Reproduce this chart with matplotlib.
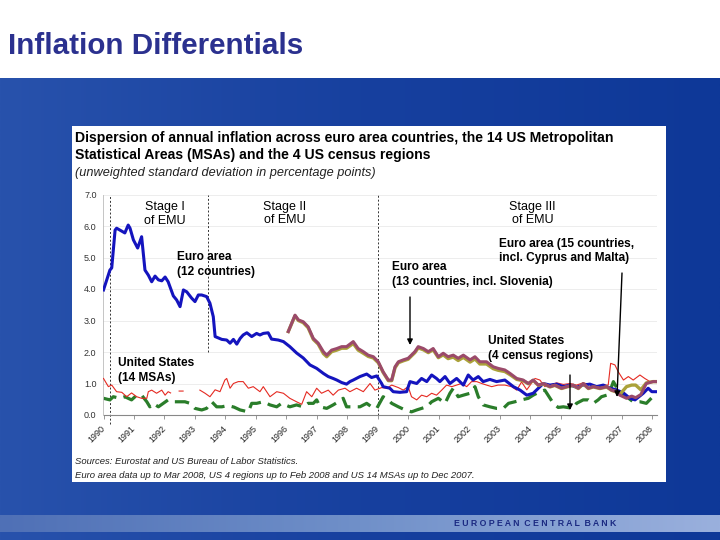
import matplotlib
matplotlib.use('Agg')
import matplotlib.pyplot as plt
import numpy as np
from matplotlib.patches import Rectangle, FancyArrowPatch
from matplotlib.colors import LinearSegmentedColormap

plt.rcParams['font.family'] = ['Liberation Sans', 'DejaVu Sans']

# ---------------- data ----------------
years = list(range(1990, 2009))
ytick_vals = [0, 1, 2, 3, 4, 5, 6, 7]
ytick_labels = ['0.0', '1.0', '2.0', '3.0', '4.0', '5.0', '6.0', '7.0']

# Euro area (12 countries)
ea12_t = [1990.00, 1990.21, 1990.27, 1990.38, 1990.43, 1990.70, 1990.81, 1990.87, 1990.98,
          1991.12, 1991.25, 1991.36, 1991.47, 1991.58, 1991.69, 1991.80, 1991.91,
          1992.02, 1992.12, 1992.29, 1992.40, 1992.51, 1992.62, 1992.73, 1992.89,
          1993.00, 1993.11, 1993.22, 1993.38, 1993.49, 1993.60, 1993.66, 1993.88,
          1994.04, 1994.15, 1994.26, 1994.37, 1994.48, 1994.58, 1994.70, 1994.86,
          1995.02, 1995.13, 1995.24, 1995.40, 1995.51, 1995.73, 1995.90,
          1996.11, 1996.33, 1996.55, 1996.77, 1996.99,
          1997.21, 1997.37, 1997.53, 1997.65, 1997.81, 1997.97,
          1998.08, 1998.19, 1998.41, 1998.63, 1998.79, 1998.96,
          1999.12, 1999.17, 1999.39, 1999.50, 1999.72, 1999.94,
          2000.05, 2000.27, 2000.43, 2000.60, 2000.76, 2000.92,
          2001.03, 2001.20, 2001.36, 2001.58, 2001.80, 2001.96,
          2002.12, 2002.29, 2002.45, 2002.67, 2002.89,
          2003.16, 2003.44, 2003.66, 2003.88,
          2004.09, 2004.26, 2004.42, 2004.64, 2004.86,
          2005.08, 2005.30, 2005.51, 2005.73, 2005.95,
          2006.17, 2006.39, 2006.61, 2006.81,
          2007.05, 2007.26, 2007.43, 2007.70, 2007.86, 2007.98, 2008.19]
ea12_v = [3.97, 4.60, 4.67, 5.87, 5.93, 5.78, 6.03, 5.93, 5.56,
          5.30, 5.66, 4.60, 4.44, 4.23, 4.41, 4.29, 4.26,
          4.38, 4.23, 3.78, 3.65, 3.44, 3.97, 3.91, 3.71,
          3.60, 3.81, 3.81, 3.76, 3.55, 3.12, 2.49, 2.40,
          2.38, 2.28, 2.40, 2.25, 2.43, 2.54, 2.61, 2.49,
          2.59, 2.54, 2.59, 2.61, 2.41, 2.38, 2.33,
          2.17, 1.97, 1.81, 1.59, 1.48,
          1.32, 1.22, 1.16, 1.11, 1.03, 0.98,
          1.06, 1.11, 1.22, 1.30, 1.19, 1.24,
          1.00, 0.90, 0.85, 0.74, 0.72, 0.74,
          1.06, 1.00, 1.16, 1.06, 1.27, 1.16,
          1.06, 1.22, 1.00, 1.16, 0.95, 1.27,
          1.11, 1.22, 1.06, 1.13, 1.06,
          1.11, 0.90, 0.79, 0.63,
          0.69, 0.85, 1.00, 0.95, 0.98,
          0.90, 0.95, 0.88, 0.95, 0.98,
          0.90, 0.95, 0.85, 0.80,
          0.70, 0.53, 0.48, 0.69, 0.85, 0.74, 0.74]

# Euro area (13 countries, incl. Slovenia) and (15 countries, incl. Cyprus and Malta)
ea_t = [1996.06, 1996.28, 1996.39, 1996.55, 1996.71, 1996.88,
        1997.04, 1997.21, 1997.32, 1997.48, 1997.65, 1997.81, 1997.97,
        1998.19, 1998.35, 1998.52, 1998.68, 1998.85,
        1999.01, 1999.17, 1999.34, 1999.45, 1999.56, 1999.67, 1999.83, 1999.99,
        2000.21, 2000.32, 2000.49, 2000.65, 2000.81, 2000.98,
        2001.14, 2001.30, 2001.47, 2001.63, 2001.80,
        2002.02, 2002.18, 2002.34, 2002.56, 2002.78, 2002.94,
        2003.16, 2003.33, 2003.55, 2003.76, 2003.93,
        2004.09, 2004.26, 2004.42, 2004.64, 2004.80,
        2005.02, 2005.19, 2005.40, 2005.57, 2005.73, 2005.90,
        2006.06, 2006.28, 2006.50, 2006.66, 2006.83, 2006.93,
        2007.15, 2007.32, 2007.45, 2007.62, 2007.80,
        2008.02, 2008.19]
ea15_v = [2.65, 3.17, 3.02, 2.96, 2.80, 2.43,
          2.28, 2.01, 1.90, 2.06, 2.11, 2.17, 2.17,
          2.33, 2.11, 2.01, 1.90, 1.85,
          1.69, 1.37, 1.11, 1.11, 1.53, 1.69, 1.75, 1.80,
          2.01, 2.17, 2.11, 2.01, 2.11, 1.85,
          1.96, 1.85, 1.90, 1.80, 1.90,
          1.75, 1.85, 1.69, 1.69, 1.53, 1.48,
          1.43, 1.32, 1.16, 1.11, 1.00,
          1.11, 0.95, 1.00, 0.90, 0.95,
          0.85, 0.90, 0.95, 0.85, 1.00, 0.85,
          0.90, 0.85, 0.90, 0.79, 0.74, 0.63,
          0.53, 0.60, 0.55, 0.65, 1.00,
          1.06, 1.06]
ea13_v = [2.65, 3.15, 3.00, 2.93, 2.77, 2.40,
          2.25, 1.95, 1.85, 2.01, 2.06, 2.12, 2.12,
          2.27, 2.06, 1.96, 1.86, 1.81,
          1.66, 1.35, 1.09, 1.09, 1.50, 1.66, 1.72, 1.77,
          1.98, 2.13, 2.07, 1.98, 2.07, 1.82,
          1.91, 1.79, 1.84, 1.73, 1.83,
          1.68, 1.78, 1.62, 1.62, 1.47, 1.42,
          1.38, 1.28, 1.13, 1.09, 0.99,
          1.10, 0.94, 0.99, 0.89, 0.94,
          0.84, 0.89, 0.94, 0.84, 0.99, 0.84,
          0.89, 0.84, 0.89, 0.78, 0.73, 0.65,
          0.90, 0.95, 0.95, 0.80, 1.02,
          1.06, 1.06]

# United States (4 census regions)
us4_t = [1990.00, 1990.16, 1990.27, 1990.43, 1990.60, 1990.76, 1990.92,
         1991.09, 1991.25, 1991.42, 1991.47, 1991.58, 1991.74, 1991.91,
         1992.02, 1992.12, 1992.20, 1992.30, 1992.48, 1992.61, 1992.75,
         1993.16, 1993.33, 1993.49, 1993.66, 1993.82, 1993.98,
         1994.04, 1994.15, 1994.26, 1994.42, 1994.58, 1994.75, 1994.91,
         1995.13, 1995.24, 1995.46, 1995.68, 1995.90,
         1996.11, 1996.33, 1996.50, 1996.66, 1996.83, 1996.99,
         1997.15, 1997.37, 1997.53, 1997.70, 1997.92,
         1998.08, 1998.30, 1998.52, 1998.74, 1998.90,
         1999.12, 1999.29, 1999.45, 1999.67, 1999.83, 1999.99,
         2000.10, 2000.27, 2000.43, 2000.60, 2000.76, 2000.92,
         2001.09, 2001.25, 2001.42, 2001.58, 2001.74, 2001.91,
         2002.07, 2002.24, 2002.40, 2002.56, 2002.73, 2002.94,
         2003.16, 2003.38, 2003.55, 2003.71, 2003.88,
         2004.15, 2004.31, 2004.47, 2004.64, 2004.86,
         2005.08, 2005.30, 2005.51, 2005.73, 2005.95,
         2006.17, 2006.39, 2006.55, 2006.63, 2006.77, 2006.88,
         2007.05, 2007.21, 2007.37, 2007.59, 2007.75, 2007.92,
         2008.08]
us4_v = [1.16, 0.90, 0.95, 0.74, 0.72, 0.58, 0.70,
         0.58, 0.53, 0.53, 0.74, 0.79, 0.69, 0.79,
         0.63, 0.74, 0.70, np.nan, 0.76, 0.76, np.nan,
         0.79, 0.69, 0.58, 0.80, 0.74, 1.11,
         1.16, 0.85, 1.00, 1.06, 1.06, 0.85, 0.90,
         0.74, 0.90, 0.58, 0.74, 0.69,
         0.53, 0.42, 0.34, 0.74, 0.58, 0.85,
         0.69, 0.79, 0.63, 0.79, 0.85,
         0.74, 0.85, 0.74, 1.00, 0.79,
         0.87, 0.85, 0.95, 0.87, 0.79, 0.90,
         0.58, 0.48, 0.63, 0.58, 0.69, 0.63,
         0.79, 0.95, 0.90, 0.95, 1.00, 0.90,
         1.06, 1.06, 1.00, 0.95, 0.90, 0.95,
         0.95, 0.90, 0.79, 1.05, 0.80,
         1.16, 1.11, 0.90, 0.95, 1.02,
         0.97, 1.00, 0.95, 1.02, 0.97,
         0.92, 0.95, 0.95, 1.64, 1.59, 1.37,
         1.11, 1.22, 1.11, 1.27, 1.16, 1.06,
         1.06]

# United States (14 MSAs)
us14_t = [1990.00, 1990.21, 1990.32, 1990.54, 1990.70, 1990.92,
          1991.09, 1991.25, 1991.42, 1991.52, 1991.63, 1991.80, 1991.96,
          1992.12, 1992.29, 1992.45, 1992.67, 1992.84,
          1993.00, 1993.22, 1993.38, 1993.55, 1993.71, 1993.88,
          1994.08, 1994.28, 1994.48, 1994.75, 1994.86,
          1995.02, 1995.24, 1995.46, 1995.68, 1995.84,
          1996.11, 1996.33, 1996.55, 1996.71, 1996.88, 1996.99,
          1997.10, 1997.32, 1997.53, 1997.70, 1997.86, 1997.97,
          1998.19, 1998.41, 1998.63, 1998.79, 1998.96,
          1999.17, 1999.34, 1999.45, 1999.67, 1999.89,
          2000.10, 2000.27, 2000.43, 2000.60, 2000.76, 2000.98,
          2001.20, 2001.36, 2001.47, 2001.63, 2001.80,
          2002.02, 2002.18, 2002.29, 2002.45, 2002.67, 2002.89,
          2003.11, 2003.28, 2003.49, 2003.71, 2003.93,
          2004.09, 2004.31, 2004.47, 2004.75, 2004.91,
          2005.08, 2005.40, 2005.51, 2005.73, 2005.90,
          2006.06, 2006.22, 2006.33, 2006.50, 2006.66, 2006.72, 2006.93,
          2007.15, 2007.37, 2007.59, 2007.80, 2007.98]
us14_v = [0.53, 0.48, 0.58, 0.53, 0.58, 0.48,
          0.63, 0.63, 0.42, 0.26, 0.37, 0.26, 0.37,
          0.48, 0.42, 0.42, 0.42, 0.37,
          0.21, 0.16, 0.21, 0.42, 0.26, 0.26,
          0.30, 0.25, 0.16, 0.10, 0.37,
          0.37, 0.42, 0.32, 0.26, 0.37,
          0.26, 0.32, 0.26, 0.37, 0.37, 0.48,
          0.26, 0.21, 0.32, 0.42, 0.53, 0.26,
          0.26, 0.26, 0.37, 0.26, 0.21,
          0.58, 0.48, 0.37, 0.26, 0.16,
          0.10, 0.16, 0.21, 0.26, 0.42, 0.53,
          0.37, 0.69, 0.85, 0.58, 0.63,
          0.69, 0.90, 0.58, 0.32, 0.26, 0.21,
          0.21, 0.37, 0.42, 0.48, 0.53,
          0.63, 0.74, 0.79, 0.37, 0.24,
          0.26, 0.21, 0.37, 0.48, 0.48,
          0.37, 0.48, 0.58, 0.63, 0.90, 1.06, 0.69,
          0.58, 0.42, 0.42, 0.37, 0.55]

stage_x = [1990.21, 1993.43, 1999.00]
stage_bottom = [-0.3, 2.0, 0.0]

# ---------------- figure ----------------
W, H = 720, 540


def P(x, y):
    return (x / W, 1 - y / H)


fig = plt.figure(figsize=(7.2, 5.4), dpi=100)
fig.patch.set_facecolor('white')

bg = fig.add_axes([0, 0, 1, 1], zorder=-10)
bg.set_xlim(0, W)
bg.set_ylim(H, 0)
bg.axis('off')
grad = np.tile(np.linspace(0, 1, 256)[None, :], (8, 1))
cmap_bg = LinearSegmentedColormap.from_list('bgc', ['#2852AC', '#17409F', '#0E3898'])
bg.imshow(grad, extent=[0, W, 540, 78], cmap=cmap_bg, aspect='auto', interpolation='bilinear')
cmap_st = LinearSegmentedColormap.from_list('stc', ['#4F70B6', '#7090C9', '#9AB0DD'])
bg.imshow(grad, extent=[0, W, 532, 515], cmap=cmap_st, aspect='auto', interpolation='bilinear')
bg.add_patch(Rectangle((72, 126), 594, 356, facecolor='white', edgecolor='none'))

fig.text(*P(8, 46), 'Inflation Differentials', fontsize=21.3, fontweight='bold',
         color='#2B318F', ha='left', va='center')
fig.text(*P(535, 523), '  '.join(' '.join(w) for w in ['EUROPEAN', 'CENTRAL', 'BANK']),
         fontsize=6.3, fontweight='bold', color='#1B2A82', ha='center', va='center')

# chart title
fig.text(*P(75, 138), 'Dispersion of annual inflation across euro area countries, the 14 US Metropolitan',
         fontsize=10.1, fontweight='bold', ha='left', va='center')
fig.text(*P(75, 155), 'Statistical Areas (MSAs) and the 4 US census regions',
         fontsize=10.1, fontweight='bold', ha='left', va='center')
fig.text(*P(75, 173), '(unweighted standard deviation in percentage points)',
         fontsize=9.2, style='italic', ha='left', va='center', color='#222222')
fig.text(*P(75, 461), 'Sources: Eurostat and US Bureau of Labor Statistics.',
         fontsize=6.8, style='italic', ha='left', va='center', color='#222222')
fig.text(*P(75, 476), 'Euro area data up to Mar 2008, US 4 regions up to Feb 2008 and US 14 MSAs up to Dec 2007.',
         fontsize=6.8, style='italic', ha='left', va='center', color='#222222')

ax = fig.add_axes([103.5 / W, 1 - 415 / H, (657 - 103.5) / W, (415 - 194.5) / H])
ax.set_facecolor('none')
ax.set_xlim(1990.0, 2008.15)
ax.set_ylim(0, 7)
for s in ['top', 'right']:
    ax.spines[s].set_visible(False)
ax.spines['left'].set_color('#BBBBBB')
ax.spines['left'].set_linewidth(0.6)
ax.spines['bottom'].set_color('#888888')
ax.spines['bottom'].set_linewidth(0.8)
ax.set_yticks(ytick_vals)
ax.set_yticklabels(ytick_labels, fontsize=6.5, color='#333333')
ax.tick_params(axis='y', length=0, pad=5)
ax.set_xticks(years)
ax.set_xticklabels([str(y) for y in years], rotation=45, ha='right', va='center',
                   rotation_mode='anchor', fontsize=6.5, color='#222222')
ax.tick_params(axis='x', length=3, width=0.6, color='#888888', pad=6)
ax.yaxis.grid(True, color='#EAEAEA', lw=0.6)
ax.set_axisbelow(True)

for sx, sb in zip(stage_x, stage_bottom):
    ax.plot([sx, sx], [sb, 7.0], color='#333333', lw=0.7, ls=(0, (2, 2)), clip_on=False, zorder=1)

ax.plot(us14_t, us14_v, color='#2A7D2A', lw=2.3, ls=(0, (4.5, 2.3)), zorder=2)
ax.plot(us4_t, us4_v, color='#E52A22', lw=0.8, zorder=3)
ax.plot(ea12_t, ea12_v, color='#1414BE', lw=2.2, zorder=4)
ax.plot(ea_t, ea13_v, color='#ABA23A', lw=2.4, zorder=5)
ax.plot(ea_t, ea15_v, color='#9B4A6A', lw=2.2, zorder=6)

# annotations
tk = dict(ha='center', va='center', fontsize=9, linespacing=1.2)
fig.text(*P(165, 214), 'Stage I\nof EMU', **tk)
fig.text(*P(284.5, 213.5), 'Stage II\nof EMU', **tk)
fig.text(*P(532.5, 213.5), 'Stage III\nof EMU', **tk)
bk = dict(ha='left', va='center', fontsize=8.6, fontweight='bold', linespacing=1.3)
fig.text(*P(177, 264.5), 'Euro area\n(12 countries)', **bk)
fig.text(*P(499, 251), 'Euro area (15 countries,\nincl. Cyprus and Malta)', **bk)
fig.text(*P(392, 274.5), 'Euro area\n(13 countries, incl. Slovenia)', **bk)
fig.text(*P(488, 348.5), 'United States\n(4 census regions)', **bk)
fig.text(*P(118, 370.5), 'United States\n(14 MSAs)', **bk)

arr = dict(arrowstyle='-|>', color='black', lw=1.0, mutation_scale=8, shrinkA=0, shrinkB=0)
for (x0, y0, x1, y1) in [(410, 297, 410, 345), (570, 375, 570, 410), (622, 273, 617, 397)]:
    fig.add_artist(FancyArrowPatch(P(x0, y0), P(x1, y1),
                   transform=fig.transFigure, zorder=10, **arr))

fig.savefig('out.png', dpi=100)
